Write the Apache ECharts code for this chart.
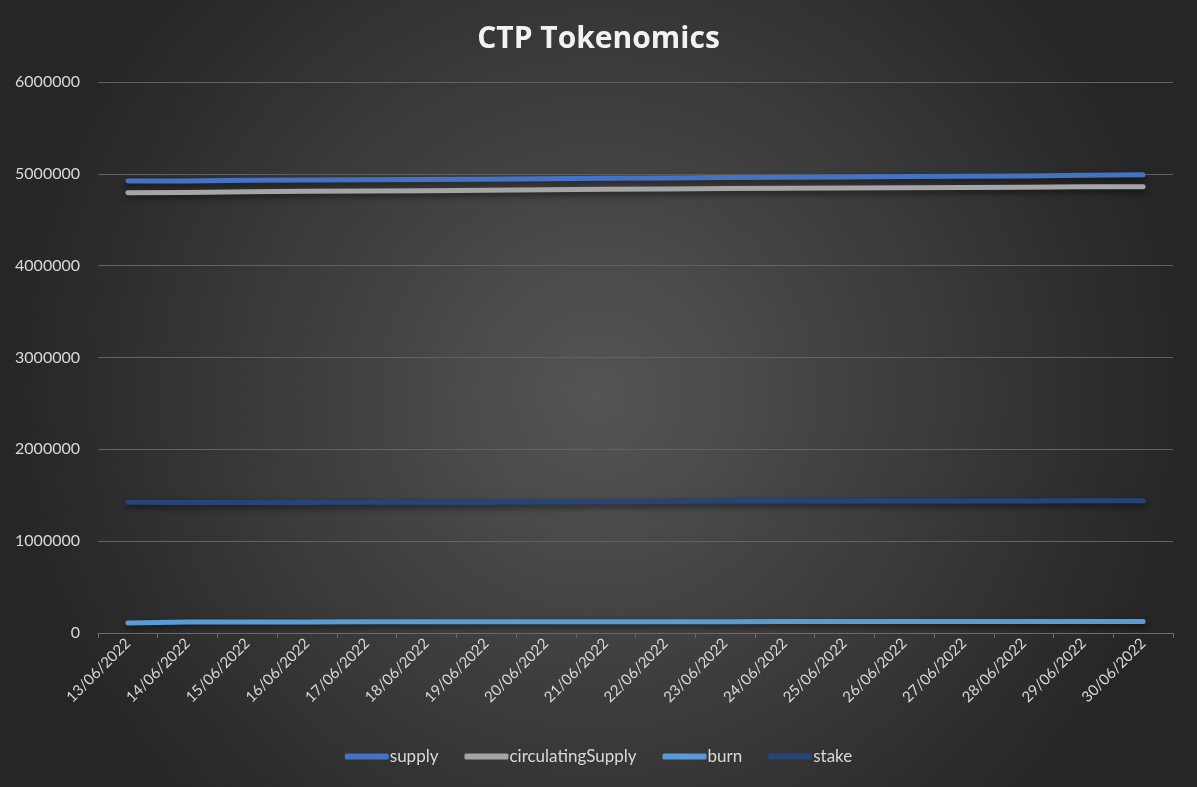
<!DOCTYPE html>
<html>
<head>
<meta charset="utf-8">
<script src="https://cdn.jsdelivr.net/npm/echarts@6/dist/echarts.min.js"></script>
<style>
html,body{margin:0;padding:0;width:1197px;height:787px;overflow:hidden;}
#c{width:1197px;height:787px;}
</style>
</head>
<body>
<div id="c"></div>
<script>
const categories = ['13/06/2022','14/06/2022','15/06/2022','16/06/2022','17/06/2022','18/06/2022','19/06/2022','20/06/2022','21/06/2022','22/06/2022','23/06/2022','24/06/2022','25/06/2022','26/06/2022','27/06/2022','28/06/2022','29/06/2022','30/06/2022'];
const supply = [4921000,4922000,4929000,4932000,4935000,4939000,4942000,4946000,4951000,4955000,4960000,4963000,4966000,4970000,4974000,4977000,4985000,4990000];
const circulatingSupply = [4795000,4797000,4806000,4810000,4813000,4817000,4820000,4828000,4832000,4835000,4840000,4843000,4845000,4849000,4852000,4854000,4858000,4860000];
const burn = [110000,120000,121000,121000,122000,122000,122000,123000,123000,123000,123000,124000,124000,124000,124000,125000,125000,125000];
const stake = [1423000,1420000,1421000,1422000,1423000,1424000,1423000,1427000,1430000,1432000,1437000,1437000,1438000,1438000,1438000,1438000,1439000,1439000];
const yTicks = [0,1000000,2000000,3000000,4000000,5000000,6000000];

const FONT = 'Lato, "Open Sans", sans-serif';
const chart = echarts.init(document.getElementById('c'));
function mk(name, data, color){
  return {
    name, type:'line', data, symbol:'none', smooth:false,
    lineStyle:{width:5, color, cap:'round', join:'round',
      shadowColor:'rgba(0,0,0,0.55)', shadowBlur:6, shadowOffsetY:3},
    itemStyle:{color}
  };
}
chart.setOption({
  backgroundColor:{type:'radial',x:0.5,y:0.5,r:0.75,colorStops:[{offset:0,color:'#555555'},{offset:1,color:'#262626'}]},
  title:{text:'CTP Tokenomics',left:'center',top:19,
    textStyle:{color:'#f2f2f2',fontSize:30,fontWeight:'bold',fontFamily:'"Open Sans", Lato, sans-serif'}},
  legend:{bottom:17,left:'center',itemWidth:44,itemHeight:6,itemGap:26,icon:'roundRect',
    textStyle:{color:'#d9d9d9',fontSize:17,fontFamily:FONT,padding:[0,0,0,-4]},
    data:['supply','circulatingSupply','burn','stake']},
  grid:{left:98,right:24,top:82,bottom:154,containLabel:false},
  xAxis:{type:'category',data:categories,boundaryGap:true,
    axisLine:{lineStyle:{color:'#6b6b6b',width:1}},
    axisTick:{show:true,length:5,lineStyle:{color:'#6b6b6b'}},
    axisLabel:{rotate:45,color:'#d9d9d9',fontSize:15,fontFamily:FONT,margin:8,interval:0}},
  yAxis:{type:'value',min:0,max:yTicks[yTicks.length-1],interval:yTicks[1]-yTicks[0],
    axisLine:{show:false},axisTick:{show:false},
    axisLabel:{color:'#d9d9d9',fontSize:16,fontFamily:FONT,margin:18,formatter:function(v){return String(v);}},
    splitLine:{lineStyle:{color:'#626262',width:1}}},
  series:[mk('supply',supply,'#4472c4'),mk('circulatingSupply',circulatingSupply,'#a5a5a5'),mk('burn',burn,'#5b9bd5'),mk('stake',stake,'#264478')]
});
</script>
</body>
</html>
